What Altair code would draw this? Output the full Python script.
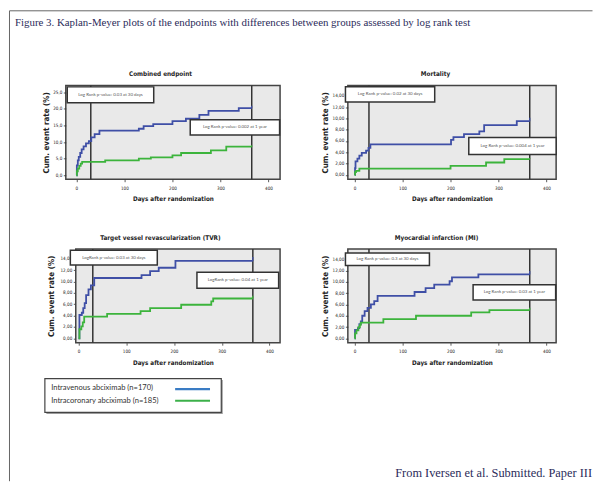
import altair as alt
import pandas as pd

# ---------------- data ----------------
groups = ["Intravenous abciximab (n=170)", "Intracoronary abciximab (n=185)"]
curve_colors = ["#3f4fa6", "#3cb43c"]
legend_colors = ["#3a7cc4", "#3cb04a"]

fig_title = "Figure 3. Kaplan-Meyer plots of the endpoints with differences between groups assessed by log rank test"
footer = "From Iversen et al. Submitted. Paper III"

panel_titles = ["Combined endpoint", "Mortality",
                "Target vessel revascularization (TVR)", "Myocardial infarction (MI)"]
x_title = "Days after randomization"
y_title = "Cum. event rate (%)"
x_ticks = [0, 100, 200, 300, 400]
ref_days = [30, 365]

# Combined endpoint
ce_iv_days = [0, 1, 3, 5, 8, 11, 15, 20, 26, 31, 38, 48, 130, 140, 160, 200, 228, 256, 275, 338, 365]
ce_iv_rate = [0, 3.0, 4.5, 5.5, 6.7, 7.8, 8.7, 9.6, 10.3, 11.4, 12.4, 13.4, 14.0, 14.8, 15.4, 16.3, 17.0, 18.2, 19.4, 20.2, 20.2]
ce_ic_days = [0, 1, 3, 6, 9, 12, 60, 130, 155, 200, 218, 280, 312, 365]
ce_ic_rate = [0, 1.2, 2.0, 2.8, 3.5, 4.0, 4.5, 5.0, 5.4, 6.0, 6.7, 7.5, 8.6, 8.6]
ce_censor_top = [20.9, 9.0]
ce_y_ticks = [0, 5, 10, 15, 20, 25]
ce_box_x1 = [-19, 237]
ce_box_x2 = [161, 423]
ce_box_y1 = [21.8, 12.1]
ce_box_y2 = [26.6, 16.7]
ce_box_text = ["Log Rank p-value: 0.03 at 30 days", "Log Rank p-value: 0.002 at 1 year"]

# Mortality
mo_iv_days = [0, 1, 2, 6, 10, 15, 24, 29, 33, 201, 206, 228, 260, 270, 338, 365]
mo_iv_rate = [0, 1.2, 2.4, 2.9, 3.4, 3.9, 4.3, 4.8, 5.4, 6.2, 6.7, 7.2, 7.7, 8.8, 9.5, 9.5]
mo_ic_days = [0, 1, 3, 10, 200, 274, 312, 365]
mo_ic_rate = [0, 0.5, 0.7, 1.1, 1.6, 2.2, 2.8, 2.8]
mo_censor_top = [10.1, 3.0]
mo_y_ticks = [0, 2, 4, 6, 8, 10, 12, 14]
mo_box_x1 = [-19, 238]
mo_box_x2 = [167, 420]
mo_box_y1 = [12.9, 3.6]
mo_box_y2 = [15.6, 6.6]
mo_box_text = ["Log Rank p-value: 0.02 at 30 days", "Log Rank p-value: 0.004 at 1 year"]

# Target vessel revascularization
tv_iv_days = [0, 2, 7, 10, 13, 16, 21, 26, 33, 132, 150, 168, 203, 365]
tv_iv_rate = [0, 4.1, 4.5, 5.3, 6.2, 7.6, 8.6, 9.3, 10.6, 11.1, 11.8, 12.4, 13.6, 13.6]
tv_ic_days = [0, 2, 6, 9, 12, 60, 130, 150, 215, 278, 282, 365]
tv_ic_rate = [0, 1.6, 2.1, 2.8, 3.8, 4.3, 4.8, 5.3, 5.9, 6.5, 7.0, 7.0]
tv_censor_top = [14.3, 7.5]
tv_y_ticks = [0, 2, 4, 6, 8, 10, 12, 14]
tv_box_x1 = [-17, 248]
tv_box_x2 = [165, 419]
tv_box_y1 = [12.9, 8.8]
tv_box_y2 = [15.5, 11.6]
tv_box_text = ["LogRank p-value: 0.03 at 30 days", "LogRank p-value: 0.04 at 1 year"]

# Myocardial infarction
mi_iv_days = [0, 1, 7, 10, 13, 16, 21, 27, 34, 41, 48, 125, 148, 166, 198, 203, 258, 365]
mi_iv_rate = [0, 1.5, 1.8, 2.5, 3.0, 4.0, 4.8, 5.4, 6.0, 6.6, 7.5, 8.2, 8.9, 9.5, 10.1, 10.8, 11.3, 11.3]
mi_ic_days = [0, 1, 4, 8, 11, 13, 60, 128, 243, 281, 365]
mi_ic_rate = [0, 0.9, 1.4, 2.0, 2.4, 2.8, 3.4, 4.0, 4.6, 5.0, 5.0]
mi_censor_top = [11.9, 5.4]
mi_y_ticks = [0, 2, 4, 6, 8, 10, 12, 14]
mi_box_x1 = [-19, 247]
mi_box_x2 = [156, 419]
mi_box_y1 = [12.9, 6.8]
mi_box_y2 = [15.1, 9.5]
mi_box_text = ["Log Rank p-value: 0.3 at 30 days", "Log Rank p-value: 0.03 at 1 year"]

# ---------------- styling ----------------
SANS = "Liberation Sans Narrow, DejaVu Sans Condensed, Arial Narrow, Liberation Sans, sans-serif"
SERIF = "Liberation Serif, Times New Roman, serif"
BOXFONT = "Lato, Liberation Sans, sans-serif"
FRAME = "#666666"
PLOT_BG = "#e9e9e9"
PLOT_EDGE = "#444444"
INK = "#2b2b5a"
PH = 94  # plot height
one = pd.DataFrame({"a": [0]})


def make_panel(title, title_x, iv_d, iv_v, ic_d, ic_v, censor_top, xdom, ydom,
               yticks, yfmt, bx1, bx2, by1, by2, btext, width, ytitle_pad,
               plot_x0=0, extra=()):
    curves = pd.DataFrame({
        "day": iv_d + ic_d,
        "rate": iv_v + ic_v,
        "group": [groups[0]] * len(iv_d) + [groups[1]] * len(ic_d),
    })
    cens = pd.DataFrame({
        "day": [iv_d[-1], ic_d[-1]],
        "rate": [iv_v[-1], ic_v[-1]],
        "top": censor_top,
        "group": groups,
    })
    refs = pd.DataFrame({"day": ref_days})
    boxes = pd.DataFrame({
        "day": bx1, "day2": bx2, "rate": by1, "rate2": by2, "label": btext,
    })
    boxes["xc"] = (boxes["day"] + boxes["day2"]) / 2
    boxes["yc"] = (boxes["rate"] + boxes["rate2"]) / 2
    tdf = pd.DataFrame({"title": [title]})

    xs = alt.Scale(domain=xdom, nice=False, zero=False)
    ys = alt.Scale(domain=ydom, nice=False, zero=False)
    xax = alt.Axis(values=x_ticks, title=x_title, format="d")
    yax = alt.Axis(values=yticks, title=y_title, titlePadding=ytitle_pad, offset=-plot_x0,
                   labelExpr="replace(format(datum.value, '%s'), '.', ',')" % yfmt)

    def X(f):
        return alt.X(f, type="quantitative", scale=xs, axis=xax)

    def Y(f):
        return alt.Y(f, type="quantitative", scale=ys, axis=yax)

    color = alt.Color("group:N", scale=alt.Scale(domain=groups, range=curve_colors), legend=None)

    layers = []
    if plot_x0:
        layers.append(alt.Chart(one).mark_rect(fill=PLOT_BG, stroke=PLOT_EDGE, strokeWidth=1.5).encode(
            x=alt.value(plot_x0), x2=alt.value(width), y=alt.value(0), y2=alt.value(PH)))
    layers += [
        alt.Chart(refs).mark_rule(color="#333333", strokeWidth=1.5).encode(
            x=X("day"), y=alt.value(0), y2=alt.value(PH)),
        alt.Chart(curves).mark_line(interpolate="step-after", strokeWidth=1.8).encode(
            x=X("day"), y=Y("rate"), color=color),
        alt.Chart(cens).mark_rule(strokeWidth=1.2).encode(
            x=X("day"), y=Y("rate"), y2="top", color=color),
        alt.Chart(boxes).mark_rect(fill="white", stroke="#333333", strokeWidth=1.5).encode(
            x=X("day"), x2="day2", y=Y("rate"), y2="rate2"),
        alt.Chart(boxes).mark_text(font=BOXFONT, fontSize=4.4, color="#555555").encode(
            x=X("xc"), y=Y("yc"), text="label:N"),
        alt.Chart(tdf).mark_text(font=SANS, fontSize=6.4, fontWeight="bold", color="#222222",
                                 baseline="middle").encode(
            x=alt.value(title_x), y=alt.value(-11.5), text="title:N"),
    ]
    layers += list(extra)

    if plot_x0:
        view = alt.ViewBackground(fill="transparent", stroke="transparent")
    else:
        view = alt.ViewBackground(fill=PLOT_BG, stroke=PLOT_EDGE, strokeWidth=1.5)
    return alt.layer(*layers).properties(width=width, height=PH, view=view)


# --- figure decorations, drawn relative to the first panel (outside its plot) ---
cap_df = pd.DataFrame({"t": [fig_title]})
deco_top = [
    alt.Chart(one).mark_rule(color=FRAME, strokeWidth=1).encode(
        x=alt.value(-56.5), y=alt.value(-75), y2=alt.value(397)),
    alt.Chart(one).mark_rule(color=FRAME, strokeWidth=1).encode(
        x=alt.value(-56.5), x2=alt.value(528.5), y=alt.value(-75)),
    alt.Chart(cap_df).mark_text(align="left", baseline="top", font=SERIF, fontSize=10.9,
                                color=INK).encode(
        x=alt.value(-51), y=alt.value(-69), text="t:N"),
]

# --- legend and footer, drawn relative to the third panel (below it) ---
deco_bottom = [
    alt.Chart(one).mark_rect(fill="#9a9a9a").encode(
        x=alt.value(-19.5), x2=alt.value(157.5), y=alt.value(131.5), y2=alt.value(165.5)),
    alt.Chart(one).mark_rect(fill="white", stroke="#444444", strokeWidth=1.2).encode(
        x=alt.value(-21), x2=alt.value(156), y=alt.value(130), y2=alt.value(164)),
]
for i, (g, c) in enumerate(zip(groups, legend_colors)):
    gdf = pd.DataFrame({"group": [g]})
    deco_bottom.append(
        alt.Chart(gdf).mark_text(align="left", baseline="middle", font=BOXFONT, fontSize=7.6,
                                 color="#333333").encode(
            x=alt.value(-14.7), y=alt.value(139.7 + 12.6 * i), text="group:N"))
    deco_bottom.append(
        alt.Chart(gdf).mark_rule(color=c, strokeWidth=2.2).encode(
            x=alt.value(109.7), x2=alt.value(144.7), y=alt.value(140.7 + 11.6 * i)))
foot_df = pd.DataFrame({"t": [footer]})
deco_bottom.append(
    alt.Chart(foot_df).mark_text(align="right", baseline="middle", font=SERIF, fontSize=12.4,
                                 color=INK).encode(
        x=alt.value(528), y=alt.value(225), text="t:N"))

p1 = make_panel(panel_titles[0], 95, ce_iv_days, ce_iv_rate, ce_ic_days, ce_ic_rate, ce_censor_top,
                [-22, 424], [-1.2, 27], ce_y_ticks, ".1f",
                ce_box_x1, ce_box_x2, ce_box_y1, ce_box_y2, ce_box_text, 215, 2,
                extra=deco_top)
p2 = make_panel(panel_titles[1], 88, mo_iv_days, mo_iv_rate, mo_ic_days, mo_ic_rate, mo_censor_top,
                [-14, 420], [-0.76, 15.8], mo_y_ticks, ".2f",
                mo_box_x1, mo_box_x2, mo_box_y1, mo_box_y2, mo_box_text, 209, 3)
p3 = make_panel(panel_titles[2], 95, tv_iv_days, tv_iv_rate, tv_ic_days, tv_ic_rate, tv_censor_top,
                [-26.5, 422], [-0.76, 15.7], tv_y_ticks, ".2f",
                tv_box_x1, tv_box_x2, tv_box_y1, tv_box_y2, tv_box_text, 215, 5,
                plot_x0=10, extra=deco_bottom)
p4 = make_panel(panel_titles[3], 89, mi_iv_days, mi_iv_rate, mi_ic_days, mi_ic_rate, mi_censor_top,
                [-14, 420], [-0.76, 15.8], mi_y_ticks, ".2f",
                mi_box_x1, mi_box_x2, mi_box_y1, mi_box_y2, mi_box_text, 209, 3)

chart = alt.concat(
    p1, p2, p3, p4, columns=2, bounds="flush",
    spacing=alt.RowColnumber(row=70, column=68),
).properties(
    padding=0, background="white"
).configure_axis(
    grid=False, domain=False, tickColor="#333333", tickSize=2.5, tickWidth=0.8,
    labelFont=SANS, labelFontSize=4.6, labelColor="#222222", labelPadding=1.5,
    titleFont=SANS, titleFontWeight="bold", titleColor="#222222",
).configure_axisX(
    titleFontSize=6.3, titlePadding=6, labelPadding=3.5,
).configure_axisY(
    titleFontSize=8,
)

chart.save("out.html", embed_options={"renderer": "svg", "actions": False})
